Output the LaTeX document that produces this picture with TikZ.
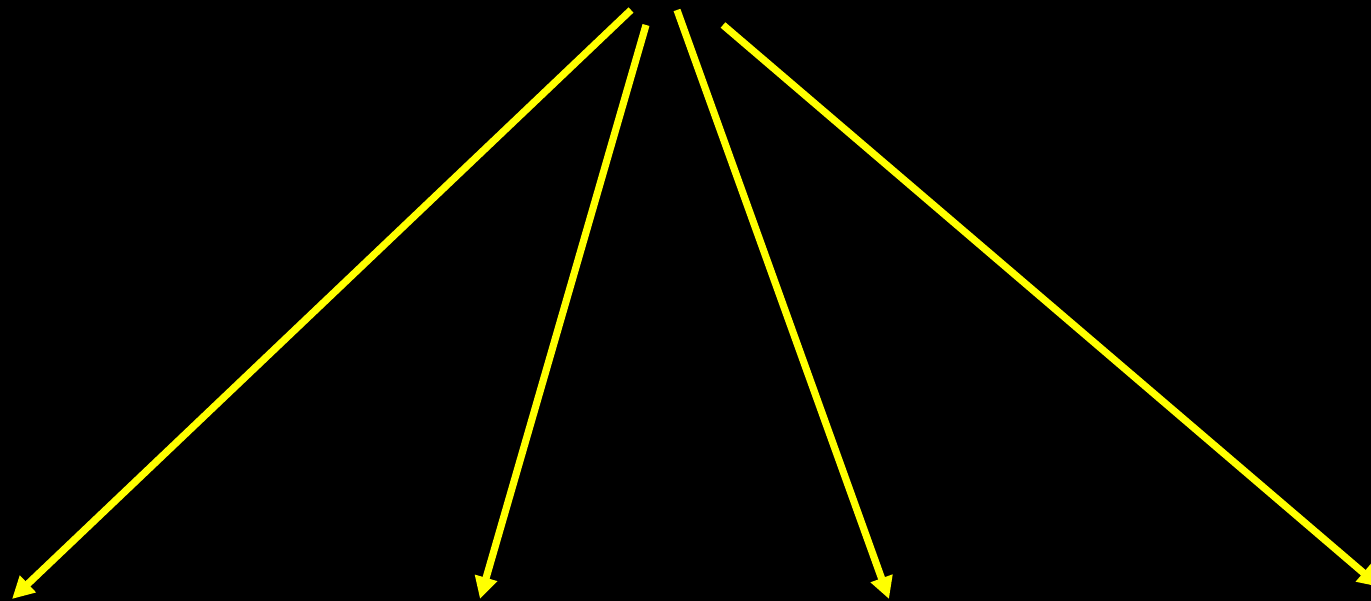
\documentclass[tikz,border=0pt]{standalone}
\usetikzlibrary{arrows.meta}
\begin{document}
\begin{tikzpicture}[x=1pt,y=-1pt,
  ray/.style={draw={rgb,255:red,255;green,255;blue,0},line width=7.2pt,-{Triangle[length=22pt,width=22pt]}}]
\fill[black] (0,0) rectangle (1371,601);
\useasboundingbox (0,0) rectangle (1371,601);
\clip (0,0) rectangle (1371,601);
\coordinate (s1) at (631,10);
\coordinate (s2) at (646,25);
\coordinate (s3) at (677,10);
\coordinate (s4) at (723,25);
\coordinate (t1) at (12,599);
\coordinate (t2) at (480,599);
\coordinate (t3) at (889,599);
\coordinate (t4) at (1380,587);
\draw[ray] (s1) -- (t1);
\draw[ray] (s2) -- (t2);
\draw[ray] (s3) -- (t3);
\draw[ray] (s4) -- (t4);
\end{tikzpicture}
\end{document}
